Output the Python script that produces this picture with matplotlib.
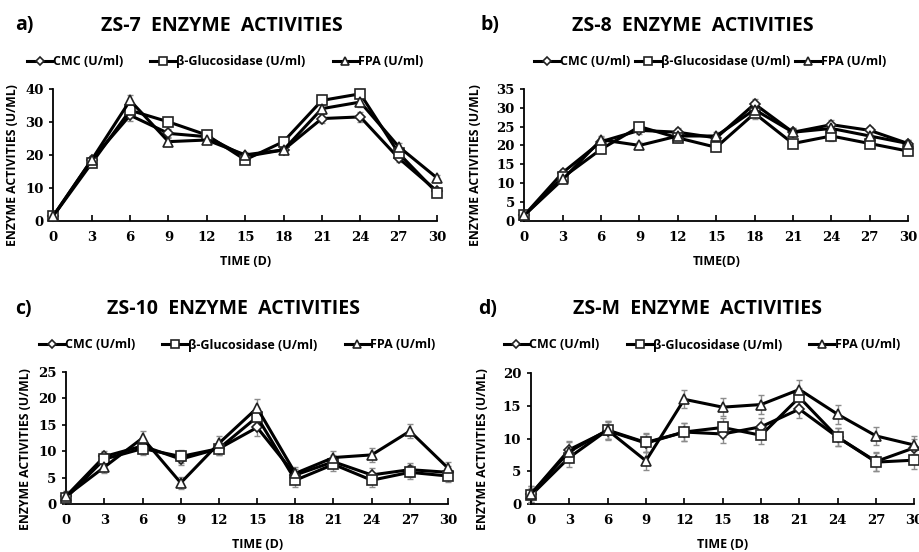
import numpy as np
import matplotlib.pyplot as plt

# -----------------------------
# DATA
# -----------------------------
days = [0, 3, 6, 9, 12, 15, 18, 21, 24, 27, 30]
series_names = ["CMC (U/ml)", "\u03b2-Glucosidase (U/ml)", "FPA (U/ml)"]

zs7_cmc = [1.5, 18.5, 32.0, 26.5, 25.5, 19.5, 21.5, 31.0, 31.5, 19.0, 9.0]
zs7_glu = [1.5, 17.5, 33.5, 30.0, 26.0, 18.5, 24.0, 36.5, 38.5, 20.5, 8.5]
zs7_fpa = [1.5, 18.5, 36.5, 24.0, 24.5, 20.0, 21.5, 34.0, 36.0, 22.5, 13.0]
zs7_err = [0.8, 1.2, 1.6, 1.2, 1.0, 1.0, 1.0, 1.4, 1.6, 1.2, 0.8]

zs8_cmc = [1.5, 12.8, 21.0, 24.0, 23.5, 22.0, 31.0, 23.5, 25.5, 24.0, 20.5]
zs8_glu = [1.5, 11.5, 19.0, 25.0, 22.0, 19.5, 28.5, 20.5, 22.5, 20.5, 18.5]
zs8_fpa = [1.5, 11.0, 21.5, 20.0, 22.5, 22.5, 29.5, 23.5, 24.5, 22.5, 20.5]
zs8_err = [0.6, 0.9, 1.1, 1.0, 1.0, 1.0, 1.4, 1.0, 1.2, 1.0, 0.9]

zs10_cmc = [1.5, 9.0, 11.0, 8.5, 10.5, 14.5, 5.5, 8.0, 5.5, 6.5, 6.0]
zs10_glu = [1.2, 8.5, 10.5, 9.0, 10.5, 16.5, 4.5, 7.5, 4.5, 6.0, 5.3]
zs10_fpa = [1.5, 7.0, 12.5, 4.0, 11.5, 18.2, 5.8, 8.8, 9.3, 13.8, 6.8]
zs10_err = [1.0, 1.1, 1.3, 1.2, 1.3, 1.6, 1.2, 1.2, 1.3, 1.3, 1.2]

zsm_cmc = [1.5, 8.3, 11.2, 9.3, 11.0, 10.7, 11.8, 14.5, 10.2, 6.5, 8.6]
zsm_glu = [1.3, 7.1, 11.3, 9.4, 11.0, 11.7, 10.5, 16.3, 10.2, 6.4, 6.7]
zsm_fpa = [1.5, 8.0, 11.3, 6.6, 16.0, 14.8, 15.2, 17.5, 13.7, 10.4, 9.0]
zsm_err = [1.2, 1.4, 1.4, 1.4, 1.4, 1.4, 1.4, 1.4, 1.4, 1.4, 1.4]

panels = [
    ("a)", "ZS-7  ENZYME  ACTIVITIES", "TIME (D)", [zs7_cmc, zs7_glu, zs7_fpa], zs7_err, 40, [0, 10, 20, 30, 40]),
    ("b)", "ZS-8  ENZYME  ACTIVITIES", "TIME(D)", [zs8_cmc, zs8_glu, zs8_fpa], zs8_err, 35, [0, 5, 10, 15, 20, 25, 30, 35]),
    ("c)", "ZS-10  ENZYME  ACTIVITIES", "TIME (D)", [zs10_cmc, zs10_glu, zs10_fpa], zs10_err, 25, [0, 5, 10, 15, 20, 25]),
    ("d)", "ZS-M  ENZYME  ACTIVITIES", "TIME (D)", [zsm_cmc, zsm_glu, zsm_fpa], zsm_err, 20, [0, 5, 10, 15, 20]),
]

# axes rectangles [left, bottom, width, height] in figure fraction
rects = [
    [0.058, 0.600, 0.417, 0.239],
    [0.570, 0.600, 0.417, 0.239],
    [0.072, 0.087, 0.415, 0.239],
    [0.577, 0.087, 0.417, 0.237],
]
title_pos = [(0.241, 0.952), (0.753, 0.952), (0.254, 0.440), (0.758, 0.440)]
label_pos = [(0.016, 0.955), (0.522, 0.955), (0.016, 0.441), (0.520, 0.441)]
legend_y = [0.888, 0.888, 0.375, 0.375]
legend_x = [0.245, 0.772, 0.258, 0.763]

markers = ["D", "s", "^"]
msizes = [5.0, 7.0, 6.5]

TICK_FONT = "DejaVu Serif"
TEXT_FONT = "Open Sans"

fig = plt.figure(figsize=(9.2, 5.52), dpi=100)

for i, (lab, title, xlab, ys, err, ymax, yticks) in enumerate(panels):
    ax = fig.add_axes(rects[i])
    handles = []
    for k, y in enumerate(ys):
        ax.errorbar(days, y, yerr=err, fmt="none", ecolor="#8c8c8c",
                    elinewidth=1.0, capsize=2.5, capthick=1.0, clip_on=False, zorder=2)
        h, = ax.plot(days, y, color="black", lw=2.2, marker=markers[k],
                     markersize=msizes[k], markerfacecolor="white",
                     markeredgecolor="#222222", markeredgewidth=1.2,
                     clip_on=False, zorder=3 + k, label=series_names[k])
        handles.append(h)

    ax.set_xlim(0, 30)
    ax.set_ylim(0, ymax)
    ax.set_xticks(days)
    ax.set_yticks(yticks)
    ax.spines["top"].set_visible(False)
    ax.spines["right"].set_visible(False)
    ax.spines["left"].set_linewidth(1.3)
    ax.spines["bottom"].set_linewidth(1.3)
    ax.tick_params(axis="x", direction="in", length=4, width=1.2, pad=7)
    ax.tick_params(axis="y", direction="out", length=3, width=1.2, pad=4)
    for t in ax.get_xticklabels() + ax.get_yticklabels():
        t.set_fontfamily(TICK_FONT)
        t.set_fontweight("bold")
        t.set_fontsize(9.5)

    ax.set_xlabel(xlab, fontfamily=TEXT_FONT, fontweight="bold", fontsize=9, labelpad=8)
    ax.set_ylabel("ENZYME ACTIVITIES (U/ML)", fontfamily=TEXT_FONT, fontweight="bold",
                  fontsize=8.8)
    ax.yaxis.set_label_coords(-0.09 if i in (0, 2) else -0.11, 0.42)

    fig.text(title_pos[i][0], title_pos[i][1], title, ha="center", va="center",
             fontfamily=TEXT_FONT, fontweight="bold", fontsize=14)
    fig.text(label_pos[i][0], label_pos[i][1], lab, ha="left", va="center",
             fontfamily=TEXT_FONT, fontweight="bold", fontsize=14)

    gap = 2.2 if i in (0, 2, 3) else 0.4
    fig.legend(handles=handles, loc="center", ncol=3,
               bbox_to_anchor=(legend_x[i], legend_y[i]), frameon=False,
               prop={"family": TEXT_FONT, "weight": "bold", "size": 9},
               handlelength=2.0, handletextpad=0.05, columnspacing=gap,
               markerscale=0.8, borderaxespad=0)

fig.savefig("out.png", dpi=100)
